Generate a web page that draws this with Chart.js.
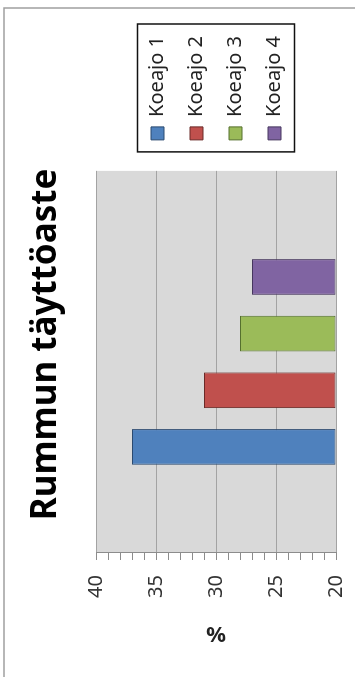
<!DOCTYPE html>
<html>
<head>
<meta charset="utf-8">
<title>Rummun täyttöaste</title>
<script src="https://cdn.jsdelivr.net/npm/chart.js@4"></script>
<style>
  html, body { margin: 0; padding: 0; background: #fff; overflow: hidden; }
  /* the chart is laid out as a normal column chart and turned a quarter turn */
  #wrap {
    position: absolute; left: 0; top: 0; width: 677px; height: 355px;
    transform-origin: 0 0;
    transform: translateY(677px) rotate(-90deg);
  }
</style>
</head>
<body>
<div id="wrap"><canvas id="chart" width="677" height="355"></canvas></div>
<script>
// data
const categories = [""];
const seriesNames = ["Koeajo 1", "Koeajo 2", "Koeajo 3", "Koeajo 4"];
const seriesValues = [37, 31, 28, 27];
const axisMin = 20;
const axisMax = 40;
const labelStep = 5;

// colours
const fillColors = ["#4f81bd", "#c0504d", "#9bbb59", "#8064a2"];
const edgeColors = ["#2b4a70", "#6b2a28", "#55702e", "#46365e"];

Chart.defaults.font.family = "'Noto Sans', sans-serif";

// grey plot background
const plotBackground = {
  id: "plotBackground",
  beforeDraw(chart) {
    const a = chart.chartArea;
    const ctx = chart.ctx;
    ctx.save();
    ctx.fillStyle = "#d9d9d9";
    ctx.fillRect(a.left, a.top, a.right - a.left, a.bottom - a.top);
    ctx.restore();
  }
};

// outer frame (only two sides fall inside the canvas)
const outerFrame = {
  id: "outerFrame",
  afterDraw(chart) {
    const ctx = chart.ctx;
    ctx.save();
    ctx.strokeStyle = "#a0a0a0";
    ctx.lineWidth = 1.5;
    ctx.beginPath();
    ctx.moveTo(0, 4);
    ctx.lineTo(669, 4);
    ctx.lineTo(669, chart.height);
    ctx.stroke();
    ctx.restore();
  }
};

// black box round the legend
const legendBox = {
  id: "legendBox",
  afterDraw(chart) {
    const boxes = chart.legend && chart.legend.legendHitBoxes;
    if (!boxes || !boxes.length) return;
    let l = Infinity, t = Infinity, r = -Infinity, b = -Infinity;
    boxes.forEach(function (h) {
      l = Math.min(l, h.left);
      t = Math.min(t, h.top);
      r = Math.max(r, h.left + h.width);
      b = Math.max(b, h.top + h.height);
    });
    const ctx = chart.ctx;
    ctx.save();
    ctx.strokeStyle = "#111";
    ctx.lineWidth = 1.5;
    ctx.strokeRect(l - 12, t - 10, r - l + 24, b - t + 20);
    ctx.restore();
  }
};

const ctx = document.getElementById("chart").getContext("2d");
const myChart = new Chart(ctx, {
  type: "bar",
  data: {
    labels: categories,
    datasets: seriesNames.map(function (name, i) {
      return {
        label: name,
        data: [seriesValues[i]],
        base: axisMin,
        backgroundColor: fillColors[i],
        borderColor: edgeColors[i],
        borderWidth: 1,
        borderSkipped: false,
        categoryPercentage: 0.593,
        barPercentage: 0.63
      };
    })
  },
  options: {
    responsive: false,
    animation: false,
    devicePixelRatio: 1,
    layout: { padding: { left: 14, right: 26, top: 0, bottom: 0 } },
    plugins: {
      title: {
        display: true,
        text: "Rummun täyttöaste",
        color: "#000",
        font: { size: 35, weight: "bold" },
        padding: { top: 25, bottom: 29 }
      },
      legend: {
        position: "right",
        align: "center",
        fullSize: false,
        maxWidth: 300,
        labels: {
          boxWidth: 13,
          boxHeight: 13,
          padding: 19,
          color: "#222",
          font: { size: 20 }
        }
      },
      tooltip: { enabled: false }
    },
    scales: {
      // category axis: no labels, just room below the plot
      x: {
        grid: { display: false },
        ticks: { display: false },
        border: { display: false },
        afterFit: function (s) { s.height = 19; }
      },
      y: {
        min: axisMin,
        max: axisMax,
        ticks: {
          stepSize: 1,
          autoSkip: false,
          padding: 15,
          color: "#333",
          font: { size: 20 },
          callback: function (v) { return v % labelStep === 0 ? v : ""; }
        },
        grid: {
          color: function (c) {
            return c.tick && c.tick.value % labelStep === 0 ? "#a3a3a3" : "rgba(0,0,0,0)";
          },
          tickColor: "#8c8c8c",
          tickLength: 7,
          lineWidth: 1
        },
        border: { display: true, color: "#8c8c8c", width: 1 },
        title: {
          display: true,
          text: "%",
          color: "#222",
          font: { size: 22, weight: "bold" },
          padding: { top: 17, bottom: 0 }
        },
        afterFit: function (s) {
          s.width = 110;
          // end labels may hang over the x axis strip
          s.paddingTop = 0;
          s.paddingBottom = 0;
        }
      },
      // empty strip between plot and legend
      gap: {
        type: "linear",
        position: "right",
        grid: { display: false },
        ticks: { display: false },
        border: { display: false },
        afterFit: function (s) { s.width = 12; }
      }
    }
  },
  plugins: [plotBackground, outerFrame, legendBox]
});
</script>
</body>
</html>
